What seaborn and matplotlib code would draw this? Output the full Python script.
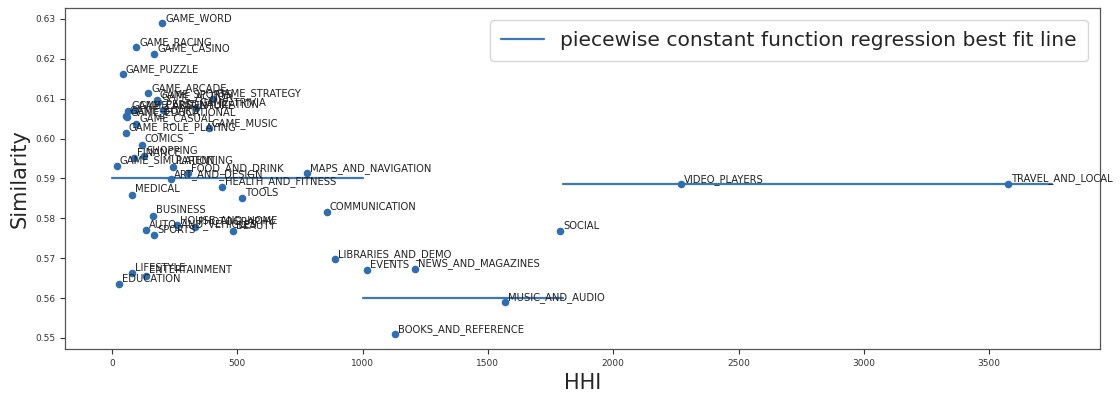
import matplotlib
matplotlib.use("Agg")
import matplotlib.pyplot as plt
import seaborn as sns
import pandas as pd

categories = [
    "GAME_WORD", "GAME_RACING", "GAME_CASINO", "GAME_PUZZLE", "GAME_ARCADE",
    "GAME_SPORTS", "GAME_ACTION", "GAME_STRATEGY", "GAME_TRIVIA", "PERSONALIZATION",
    "GAME_ADVENTURE", "GAME_CARD", "GAME_BOARD", "GAME_EDUCATIONAL", "GAME_CASUAL",
    "GAME_MUSIC", "GAME_ROLE_PLAYING", "COMICS", "FINANCE", "SHOPPING",
    "GAME_SIMULATION", "PARENTING", "FOOD_AND_DRINK", "ART_AND_DESIGN",
    "HEALTH_AND_FITNESS", "MEDICAL", "TOOLS", "MAPS_AND_NAVIGATION", "COMMUNICATION",
    "SOCIAL", "LIBRARIES_AND_DEMO", "EVENTS", "NEWS_AND_MAGAZINES", "MUSIC_AND_AUDIO",
    "BOOKS_AND_REFERENCE", "VIDEO_PLAYERS", "TRAVEL_AND_LOCAL", "BUSINESS",
    "AUTO_AND_VEHICLES", "SPORTS", "HOUSE_AND_HOME", "PHOTOGRAPHY", "BEAUTY",
    "LIFESTYLE", "ENTERTAINMENT", "EDUCATION",
]
hhi = [
    201, 96, 169, 43, 145,
    178, 184, 403, 335, 204,
    92, 64, 56, 60, 96,
    385, 55, 118, 88, 126,
    18, 243, 303, 235,
    438, 78, 518, 778, 857,
    1788, 890, 1016, 1209, 1568,
    1129, 2270, 3575, 162,
    134, 169, 258, 331, 484,
    79, 136, 28,
]
similarity = [
    0.6289, 0.6229, 0.6212, 0.6161, 0.6113,
    0.6097, 0.6092, 0.6099, 0.6077, 0.6071,
    0.6071, 0.6069, 0.6057, 0.6053, 0.6037,
    0.6026, 0.6015, 0.5984, 0.5950, 0.5955,
    0.5931, 0.5929, 0.5913, 0.5898,
    0.5879, 0.5859, 0.5850, 0.5913, 0.5815,
    0.5768, 0.5697, 0.5670, 0.5673, 0.5589,
    0.5509, 0.5885, 0.5886, 0.5807,
    0.5771, 0.5757, 0.5782, 0.5777, 0.5768,
    0.5662, 0.5656, 0.5635,
]

# piecewise constant fit: segment boundaries and levels
seg_start = [0, 1000, 1800]
seg_end = [1000, 1800, 3750]
seg_level = [0.5900, 0.5600, 0.5885]

df = pd.DataFrame({"HHI": hhi, "Similarity": similarity, "category": categories})

sns.set_style("white")
plt.rcParams["font.family"] = ["DejaVu Sans"]
fig = plt.figure(figsize=(11.2, 3.93), dpi=100)
ax = fig.add_axes([0.058, 0.112, 0.924, 0.868])

sns.scatterplot(data=df, x="HHI", y="Similarity", ax=ax, color="#2f6eb0",
                s=30, linewidth=0, zorder=3)

for i, (a, b, lv) in enumerate(zip(seg_start, seg_end, seg_level)):
    seg = pd.DataFrame({"HHI": [a, b], "Similarity": [lv, lv]})
    sns.lineplot(data=seg, x="HHI", y="Similarity", ax=ax, color="#3b78b8",
                 linewidth=1.6, zorder=2,
                 label="piecewise constant function regression best fit line" if i == 0 else None)

for name, x, y in zip(categories, hhi, similarity):
    ax.annotate(name, (x, y), xytext=(2.2, 1.8), textcoords="offset points",
                fontsize=7.2, color="#222222", zorder=4)

ax.set_xlim(-188, 3942)
ax.set_ylim(0.54724, 0.63276)
ax.set_xticks([0, 500, 1000, 1500, 2000, 2500, 3000, 3500])
ax.set_yticks([0.55, 0.56, 0.57, 0.58, 0.59, 0.60, 0.61, 0.62, 0.63])
ax.set_yticklabels(["0.55", "0.56", "0.57", "0.58", "0.59", "0.60", "0.61", "0.62", "0.63"])
ax.tick_params(axis="both", labelsize=6.5, length=3.5, width=0.8, color="#333333",
               labelcolor="#333333", bottom=True, left=True)
ax.set_xlabel("HHI", fontsize=15)
ax.set_ylabel("Similarity", fontsize=15)
for sp in ax.spines.values():
    sp.set_color("#555555")
    sp.set_linewidth(0.9)

ax.legend(loc="upper right", fontsize=14.6, frameon=True, handlelength=2.1,
          borderpad=0.55, handletextpad=0.8, borderaxespad=0.6)

fig.savefig("out.png", dpi=100)
